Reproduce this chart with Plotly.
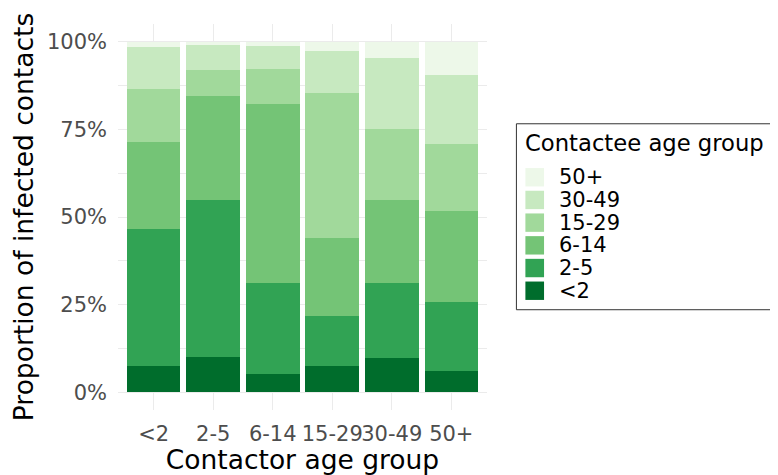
import plotly.graph_objects as go

contactor_groups = ["<2", "2-5", "6-14", "15-29", "30-49", "50+"]
contactee_groups = ["<2", "2-5", "6-14", "15-29", "30-49", "50+"]

# proportion of infected contacts (per contactor group, in contactee order)
share_lt2 = [0.074, 0.100, 0.054, 0.074, 0.097, 0.062]
share_2_5 = [0.392, 0.448, 0.257, 0.143, 0.215, 0.196]
share_6_14 = [0.249, 0.298, 0.512, 0.223, 0.237, 0.258]
share_15_29 = [0.149, 0.074, 0.099, 0.412, 0.201, 0.192]
share_30_49 = [0.120, 0.069, 0.066, 0.122, 0.204, 0.197]
share_50p = [0.016, 0.011, 0.012, 0.026, 0.046, 0.095]

series = [share_lt2, share_2_5, share_6_14, share_15_29, share_30_49, share_50p]
colors = ["#006d2c", "#31a354", "#74c476", "#a1d99b", "#c7e9c0", "#edf8e9"]
legend_title = "Contactee age group"

font = "DejaVu Sans"
# the page body adds an 8px offset, so the figure is sized to fit the 778x475 window
W, H = 770, 467
ML, MR, MT, MB = 109.5, 290.5, 16.2, 64.7
PW, PH = W - ML - MR, H - MT - MB


def px(fx):  # figure pixel x -> paper
    return (fx - ML) / PW


def py(fy):  # figure pixel y (from top) -> paper
    return (H - MB - fy) / PH


fig = go.Figure()
for name, vals, col in zip(contactee_groups, series, colors):
    fig.add_trace(go.Bar(x=contactor_groups, y=vals, name=name, showlegend=False,
                         marker=dict(color=col, line=dict(width=0))))

# custom legend (ggplot-like); box runs off the right edge
bx0, bx1, by0, by1 = px(509), px(800), py(302), py(116)
shapes = [dict(type="path", xref="paper", yref="paper",
               path=f"M {bx1} {by1} L {bx0} {by1} L {bx0} {by0} L {bx1} {by0}",
               line=dict(color="#333333", width=1))]
annotations = [dict(text=legend_title, xref="paper", yref="paper",
                    x=px(516), y=py(135), xanchor="left", yanchor="middle",
                    showarrow=False, font=dict(family=font, size=22.7, color="black"))]
for i, (name, col) in enumerate(zip(contactee_groups[::-1], colors[::-1])):
    cy = 169.5 + 22.7 * i
    shapes.append(dict(type="rect", xref="paper", yref="paper",
                       x0=px(518), x1=px(536.7), y0=py(cy + 9.2), y1=py(cy - 9.2),
                       line=dict(width=0), fillcolor=col))
    annotations.append(dict(text=name, xref="paper", yref="paper",
                            x=px(550), y=py(cy), xanchor="left", yanchor="middle",
                            showarrow=False, font=dict(family=font, size=21, color="black")))

fig.update_layout(
    barmode="stack", bargap=0.1,
    width=W, height=H,
    margin=dict(l=ML, r=MR, t=MT, b=MB, autoexpand=False),
    paper_bgcolor="white", plot_bgcolor="white",
    font=dict(family=font, size=21, color="#4d4d4d"),
    shapes=shapes, annotations=annotations,
    showlegend=False,
)
fig.update_xaxes(
    showgrid=True, gridcolor="#ebebeb", gridwidth=1.1,
    range=[-0.6, 5.6], showline=False, zeroline=False, ticks="", tickangle=0,
    ticklabelstandoff=9,
    tickfont=dict(family=font, size=21, color="#4d4d4d"),
    title=dict(text="Contactor age group", font=dict(family=font, size=26.5, color="black"), standoff=2),
)
fig.update_yaxes(
    range=[-0.05, 1.05], tickvals=[0, 0.25, 0.5, 0.75, 1.0],
    ticktext=["0%", "25%", "50%", "75%", "100%"],
    showgrid=True, gridcolor="#ebebeb", gridwidth=1.1,
    minor=dict(showgrid=True, tickvals=[0.125, 0.375, 0.625, 0.875], gridcolor="#ebebeb", gridwidth=0.6),
    showline=False, zeroline=False, ticks="",
    ticklabelstandoff=10,
    tickfont=dict(family=font, size=21, color="#4d4d4d"),
    title=dict(text="Proportion of infected contacts", font=dict(family=font, size=26.5, color="black"), standoff=6),
)
fig.write_html("out.html")
